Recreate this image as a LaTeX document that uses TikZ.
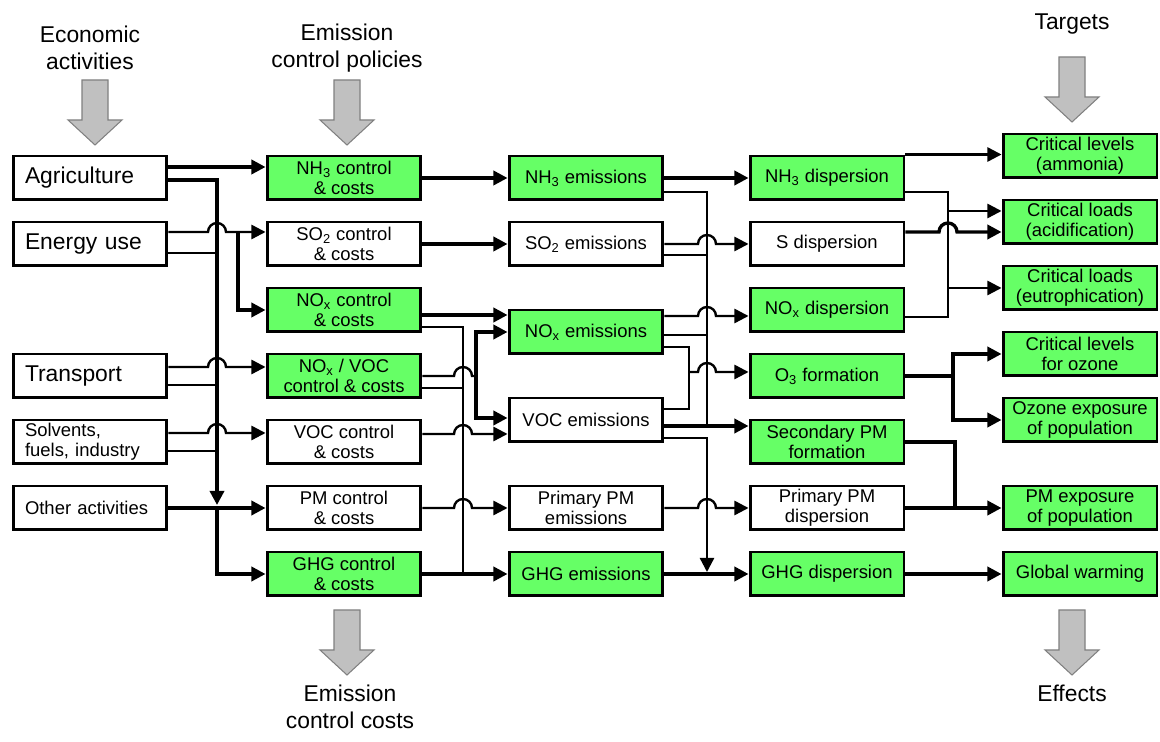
\documentclass[tikz,border=0pt]{standalone}
\usepackage{fontspec}
\setmainfont{Liberation Sans}
\usetikzlibrary{arrows.meta, calc}
\definecolor{boxgreen}{HTML}{66FF66}
\definecolor{arrowgray}{HTML}{C0C0C0}
\definecolor{arrowedge}{HTML}{808080}
\newcommand{\boxfont}{\fontsize{10.5}{11.5}\selectfont}
\newcommand{\bigfont}{\fontsize{13}{15.5}\selectfont}

\begin{document}
\begin{tikzpicture}[x=0.02cm, y=-0.02cm]
        \tikzset{box/.style={draw, line width=1.7pt, minimum width=3.08cm, minimum height=0.88cm, inner sep=1pt, align=center, font=\boxfont}}
        \tikzset{gbox/.style={box, fill=boxgreen}}
        \tikzset{srcbox/.style={box, align=left, text width=2.6cm, inner xsep=0.24cm}}
        \tikzset{link/.style={line width=1.9pt, -{Triangle[length=8pt,width=8pt]}}}
        \tikzset{thinlink/.style={line width=1.35pt, -{Triangle[length=8pt,width=8pt]}}}
        \tikzset{joint/.style={line width=1.35pt}}
        \tikzset{bus/.style={line width=1.9pt}}
        \tikzset{title/.style={font=\bigfont, align=center}}

        \useasboundingbox (0,0) rectangle (1160,742);

        % headings and big arrows
        \node[title] (econ) at (90,48) {Economic\\ activities};
        \node[title] (policy) at (347,48) {Emission\\ control policies};
        \node[title] (targets) at (1072,24) {Targets};
        \node[title] (costs) at (350,707) {Emission\\ control costs};
        \node[title] (effects) at (1072,693) {Effects};
        \foreach \cx/\ty in {95/80, 347/80, 1072/57, 347/610, 1072/610}
            \filldraw[fill=arrowgray, draw=arrowedge, line width=0.6pt]
                (\cx-13,\ty) -- (\cx+13,\ty) -- (\cx+13,\ty+40) -- (\cx+27,\ty+40)
                -- (\cx,\ty+65) -- (\cx-27,\ty+40) -- (\cx-13,\ty+40) -- cycle;

        % activities
        \node[srcbox, font=\bigfont] (agri) at (90,178) {Agriculture};
        \node[srcbox, font=\bigfont] (energy) at (90,244) {Energy use};
        \node[srcbox, font=\bigfont] (transp) at (90,376) {Transport};
        \node[srcbox] (solv) at (90,442) {Solvents,\\ fuels, industry};
        \node[srcbox] (other) at (90,508) {Other activities};

        % control
        \node[gbox] (nhc) at (344,178) {NH\textsubscript{3} control\\ \& costs};
        \node[box] (soc) at (344,244) {SO\textsubscript{2} control\\ \& costs};
        \node[gbox] (noc) at (344,310) {NO\textsubscript{x} control\\ \& costs};
        \node[gbox] (nvc) at (344,376) {NO\textsubscript{x} / VOC\\ control \& costs};
        \node[box] (vocc) at (344,442) {VOC control\\ \& costs};
        \node[box] (pmc) at (344,508) {PM control\\ \& costs};
        \node[gbox] (ghgc) at (344,574) {GHG control\\ \& costs};

        % emissions
        \node[gbox] (nhe) at (586,178) {NH\textsubscript{3} emissions};
        \node[box] (soe) at (586,244) {SO\textsubscript{2} emissions};
        \node[gbox] (noe) at (586,332) {NO\textsubscript{x} emissions};
        \node[box] (voce) at (586,420) {VOC emissions};
        \node[box] (pme) at (586,508) {Primary PM\\ emissions};
        \node[gbox] (ghge) at (586,574) {GHG emissions};

        % dispersion
        \node[gbox] (nhd) at (827,178) {NH\textsubscript{3} dispersion};
        \node[box] (sd) at (827,244) {S dispersion};
        \node[gbox] (nod) at (827,310) {NO\textsubscript{x} dispersion};
        \node[gbox] (o3f) at (827,376) {O\textsubscript{3} formation};
        \node[gbox] (spm) at (827,442) {Secondary PM\\ formation};
        \node[box] (pmd) at (827,508) {Primary PM\\ dispersion};
        \node[gbox] (ghgd) at (827,574) {GHG dispersion};

        % targets / effects
        \node[gbox] (clam) at (1080,156) {Critical levels\\ (ammonia)};
        \node[gbox] (clac) at (1080,222) {Critical loads\\ (acidification)};
        \node[gbox] (cleu) at (1080,288) {Critical loads\\ (eutrophication)};
        \node[gbox] (cloz) at (1080,354) {Critical levels\\ for ozone};
        \node[gbox] (ozexp) at (1080,420) {Ozone exposure\\ of population};
        \node[gbox] (pmexp) at (1080,508) {PM exposure\\ of population};
        \node[gbox] (glob) at (1080,574) {Global warming};

        % junction points
        \coordinate (busL) at (217,508);
        \coordinate (eSplit) at (238,232);
        \coordinate (busM) at (463,574);
        \coordinate (nvSplit) at (476,376);
        \coordinate (busR) at (707,426);
        \coordinate (vocBus) at (707,574);
        \coordinate (oxSplit) at (689,372);
        \coordinate (nSplitA) at (948,211);
        \coordinate (nSplitB) at (948,288);
        \coordinate (o3Split) at (953,376);
        \coordinate (pmJoin) at (955,508);

        % activities -> control
        \draw[link] ($(agri.east)+(0,-11)$) -- ($(nhc.west)+(0,-11)$);
        \draw[link] ($(agri.east)+(0,2)$) -| ($(busL)+(0,-3)$);
        \draw[link] (busL) |- (ghgc.west);
        \draw[joint] ($(energy.east)+(0,9)$) -- (217,253);
        \draw[joint] ($(transp.east)+(0,9)$) -- (217,385);
        \draw[joint] ($(solv.east)+(0,9)$) -- (217,451);
        \draw[thinlink] ($(energy.east)+(0,-12)$) -- (208,232) arc[start angle=180, end angle=0, radius=0.18cm] -- ($(soc.west)+(0,-12)$);
        \draw[link] (eSplit) |- (noc.west);
        \draw[thinlink] ($(transp.east)+(0,-9)$) -- (208,367) arc[start angle=180, end angle=0, radius=0.18cm] -- ($(nvc.west)+(0,-9)$);
        \draw[thinlink] ($(solv.east)+(0,-9)$) -- (208,433) arc[start angle=180, end angle=0, radius=0.18cm] -- ($(vocc.west)+(0,-9)$);
        \draw[link] (other) -- (pmc);

        % control -> emissions
        \draw[link] (nhc) -- (nhe);
        \draw[link] (soc) -- (soe);
        \draw[link] ($(noc.east)+(0,5)$) -- ($(noe.west)+(0,-17)$);
        \draw[joint] ($(noc.east)+(0,17)$) -| (busM);
        \draw[joint] ($(nvc.east)+(0,12)$) -- (463,388);
        \draw[joint] (nvc.east) -- (454,376) arc[start angle=180, end angle=0, radius=0.18cm] -- (nvSplit);
        \draw[link] (nvSplit) |- (noe.west);
        \draw[link] (nvSplit) |- ($(voce.west)+(0,-2)$);
        \draw[thinlink] ($(vocc.east)+(0,-8)$) -- (454,434) arc[start angle=180, end angle=0, radius=0.18cm] -- ($(voce.west)+(0,14)$);
        \draw[thinlink] (pmc) -- (454,508) arc[start angle=180, end angle=0, radius=0.18cm] -- (pme);
        \draw[link] (ghgc) -- (ghge);

        % emissions -> dispersion
        \draw[link] (nhe) -- (nhd);
        \draw[joint] ($(nhe.east)+(0,14)$) -| (busR);
        \draw[joint] ($(soe.east)+(0,11)$) -- (707,255);
        \draw[joint] ($(noe.east)+(0,3)$) -- (707,335);
        \draw[thinlink] (soe) -- (698,244) arc[start angle=180, end angle=0, radius=0.18cm] -- (sd);
        \draw[thinlink] ($(noe.east)+(0,-16)$) -- (698,316) arc[start angle=180, end angle=0, radius=0.18cm] -- ($(nod.west)+(0,6)$);
        \draw[joint] ($(noe.east)+(0,15)$) -- (689,347) -- (689,409) -- ($(voce.east)+(0,-11)$);
        \draw[thinlink] (oxSplit) -- (698,372) arc[start angle=180, end angle=0, radius=0.18cm] -- ($(o3f.west)+(0,-4)$);
        \draw[link] ($(voce.east)+(0,6)$) -- ($(spm.west)+(0,-16)$);
        \draw[thinlink] ($(voce.east)+(0,18)$) -| ($(vocBus)+(0,-2)$);
        \draw[thinlink] (pme) -- (698,508) arc[start angle=180, end angle=0, radius=0.18cm] -- (pmd);
        \draw[link] (ghge) -- (ghgd);

        % dispersion -> targets
        \draw[thinlink] (nhd.north east) -- (nhd.north east -| clam.west);
        \draw[joint] ($(nhd.east)+(0,14)$) -- (948,192) -- (948,317) -- ($(nod.east)+(0,7)$);
        \draw[thinlink] (nSplitA) -- ($(clac.west)+(0,-11)$);
        \draw[thinlink] (nSplitB) -- (cleu.west);
        \draw[link] ($(sd.east)+(0,-12)$) -- (939,232) arc[start angle=180, end angle=0, radius=0.18cm] -- ($(clac.west)+(0,10)$);
        \draw[link] (o3f) -- (o3Split) |- (cloz.west);
        \draw[link] (o3Split) |- (ozexp.west);
        \draw[bus] (spm) -| (pmJoin);
        \draw[link] (pmd) -- (pmexp);
        \draw[link] (ghgd) -- (glob);
    \end{tikzpicture}
\end{document}
